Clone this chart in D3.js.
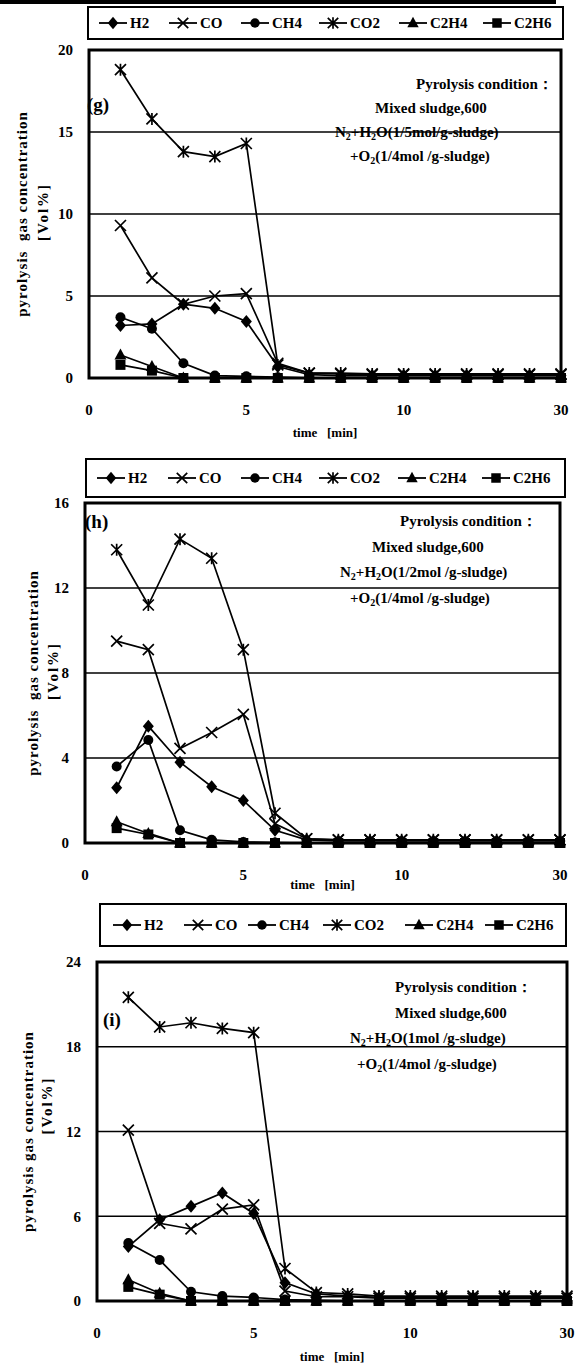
<!DOCTYPE html>
<html>
<head>
<meta charset="utf-8">
<script src="https://cdn.jsdelivr.net/npm/d3@7"></script>
<style>
  body { margin: 0; background: #fff; }
  svg text { font-family: "Liberation Serif", "DejaVu Serif", serif; font-weight: bold; fill: #000; }
</style>
</head>
<body>
<svg id="chart" width="583" height="1367"></svg>
<script>
// time points (min); the last one is plotted at position 15 but labelled 30
var times = [1, 2, 3, 4, 5, 6, 7, 8, 9, 10, 11, 12, 13, 14, 30];
var xTickPos = [0, 5, 10, 15];
var xTickLabels = ["0", "5", "10", "30"];
var gases = ["H2", "CO", "CH4", "CO2", "C2H4", "C2H6"];

// (g) N2+H2O(1/5mol/g-sludge)
var g_H2   = [3.2, 3.3, 4.5, 4.25, 3.45, 0.7, 0.2, 0.15, 0.15, 0.15, 0.15, 0.15, 0.15, 0.15, 0.15];
var g_CO   = [9.3, 6.1, 4.5, 5.0, 5.15, 0.9, 0.3, 0.25, 0.2, 0.2, 0.2, 0.2, 0.2, 0.2, 0.2];
var g_CH4  = [3.7, 3.0, 0.9, 0.15, 0.1, 0.05, 0, 0, 0, 0, 0, 0, 0, 0, 0];
var g_CO2  = [18.8, 15.8, 13.8, 13.5, 14.3, 0.8, 0.3, 0.3, 0.25, 0.25, 0.25, 0.25, 0.25, 0.25, 0.25];
var g_C2H4 = [1.4, 0.7, 0, 0, 0, 0, 0, 0, 0, 0, 0, 0, 0, 0, 0];
var g_C2H6 = [0.8, 0.45, 0, 0, 0, 0, 0, 0, 0, 0, 0, 0, 0, 0, 0];
var g_yTicks = [0, 5, 10, 15, 20];

// (h) N2+H2O(1/2mol/g-sludge)
var h_H2   = [2.6, 5.5, 3.8, 2.65, 2.0, 0.6, 0.15, 0.1, 0.1, 0.1, 0.1, 0.1, 0.1, 0.1, 0.1];
var h_CO   = [9.5, 9.1, 4.45, 5.2, 6.05, 0.9, 0.2, 0.15, 0.15, 0.15, 0.15, 0.15, 0.15, 0.15, 0.15];
var h_CH4  = [3.6, 4.85, 0.6, 0.15, 0.05, 0.02, 0, 0, 0, 0, 0, 0, 0, 0, 0];
var h_CO2  = [13.8, 11.2, 14.3, 13.4, 9.1, 1.4, 0.2, 0.15, 0.15, 0.15, 0.15, 0.15, 0.15, 0.15, 0.15];
var h_C2H4 = [1.0, 0.45, 0, 0, 0, 0, 0, 0, 0, 0, 0, 0, 0, 0, 0];
var h_C2H6 = [0.7, 0.4, 0, 0, 0, 0, 0, 0, 0, 0, 0, 0, 0, 0, 0];
var h_yTicks = [0, 4, 8, 12, 16];

// (i) N2+H2O(1mol/g-sludge)
var i_H2   = [3.85, 5.75, 6.7, 7.65, 6.2, 1.3, 0.5, 0.35, 0.25, 0.25, 0.25, 0.25, 0.25, 0.25, 0.25];
var i_CO   = [12.1, 5.5, 5.1, 6.5, 6.8, 0.7, 0.3, 0.3, 0.2, 0.2, 0.2, 0.2, 0.2, 0.2, 0.2];
var i_CH4  = [4.1, 2.9, 0.65, 0.35, 0.25, 0.1, 0.05, 0, 0, 0, 0, 0, 0, 0, 0];
var i_CO2  = [21.5, 19.4, 19.7, 19.3, 19.0, 2.3, 0.6, 0.5, 0.35, 0.35, 0.35, 0.35, 0.35, 0.35, 0.35];
var i_C2H4 = [1.5, 0.55, 0, 0, 0, 0, 0, 0, 0, 0, 0, 0, 0, 0, 0];
var i_C2H6 = [1.0, 0.45, 0, 0, 0, 0, 0, 0, 0, 0, 0, 0, 0, 0, 0];
var i_yTicks = [0, 6, 12, 18, 24];

var svg = d3.select("#chart");

// black strip at the very top of the scan
svg.append("rect").attr("x", 0).attr("y", 0).attr("width", 556).attr("height", 4).attr("fill", "#000");

// marker shapes, k = scale
function marker(sel, gas, k) {
    var p;
    if (gas == "H2") p = "M0,-6.5L5.5,0L0,6.5L-5.5,0Z";
    else if (gas == "C2H4") p = "M0,-6.5L6,4.5L-6,4.5Z";
    else if (gas == "C2H6") p = "M-5,-5h10v10h-10Z";
    if (p) {
        sel.append("path").attr("d", p).attr("fill", "#000").attr("transform", `scale(${k})`);
    } else if (gas == "CH4") {
        sel.append("circle").attr("r", 5 * k).attr("fill", "#000");
    } else {
        var r = 5.5 * k;
        var d = `M${-r},${-r}L${r},${r}M${-r},${r}L${r},${-r}`;
        if (gas == "CO2") d += `M0,${-r - 0.5}L0,${r + 0.5}`;
        sel.append("path").attr("d", d).attr("stroke", "#000").attr("stroke-width", 1.7).attr("fill", "none");
    }
}

function drawPanel(p) {
    var x = d3.scaleLinear().domain([0, 15]).range([p.left, p.right]);
    var y = d3.scaleLinear().domain([0, p.yTicks[p.yTicks.length - 1]]).range([p.bottom, p.top]);

    // legend box
    var lg = svg.append("g");
    lg.append("rect")
        .attr("x", p.legend[0]).attr("y", p.legend[1])
        .attr("width", p.legend[2] - p.legend[0]).attr("height", p.legend[3] - p.legend[1])
        .attr("fill", "none").attr("stroke", "#000").attr("stroke-width", 2);
    var ly = (p.legend[1] + p.legend[3]) / 2;
    gases.forEach(function(gas, k) {
        var cx = p.legendX[k];
        var it = lg.append("g").attr("transform", `translate(${cx},${ly})`);
        it.append("line").attr("x1", -14).attr("x2", 14).attr("stroke", "#000").attr("stroke-width", 1.8);
        marker(it, gas, 0.95);
        it.append("text").attr("x", 17).attr("dy", "0.35em").style("font-size", "15px").text(gas);
    });

    // gridlines
    svg.append("g").selectAll("line")
        .data(p.yTicks.slice(1, -1))
        .enter().append("line")
        .attr("x1", p.left).attr("x2", p.right)
        .attr("y1", function(d) { return y(d); }).attr("y2", function(d) { return y(d); })
        .attr("stroke", "#000").attr("stroke-width", 1.5);

    // y tick labels
    svg.append("g").selectAll("text")
        .data(p.yTicks)
        .enter().append("text")
        .attr("x", p.left - 16).attr("y", function(d) { return y(d); })
        .attr("dy", "0.35em").attr("text-anchor", "end")
        .style("font-size", "15px")
        .text(function(d) { return d; });

    // x tick labels
    svg.append("g").selectAll("text")
        .data(xTickPos)
        .enter().append("text")
        .attr("x", function(d) { return x(d); }).attr("y", p.bottom + 37)
        .attr("text-anchor", "middle")
        .style("font-size", "15px")
        .text(function(d, i) { return xTickLabels[i]; });

    svg.append("text")
        .attr("x", (p.left + p.right) / 2).attr("y", p.bottom + p.xTitleDy)
        .attr("text-anchor", "middle").attr("xml:space", "preserve")
        .style("font-size", "13px")
        .text("time   [min]");

    // y title (two lines)
    var yc = (p.top + p.bottom) / 2;
    svg.append("text")
        .attr("transform", `translate(${p.yTitleX[0]},${yc}) rotate(-90)`)
        .attr("text-anchor", "middle").attr("dy", "0.35em").attr("xml:space", "preserve")
        .style("font-size", "15px").style("letter-spacing", "1px")
        .text(p.yTitle);
    svg.append("text")
        .attr("transform", `translate(${p.yTitleX[1]},${yc - p.volShift}) rotate(-90)`)
        .attr("text-anchor", "middle").attr("dy", "0.35em")
        .style("font-size", "15px").style("letter-spacing", "2px")
        .text("[Vol%]");

    // series
    var line = d3.line()
        .x(function(d, i) { return x(i + 1); })
        .y(function(d) { return y(d); });
    gases.forEach(function(gas) {
        svg.append("path")
            .datum(p.series[gas])
            .attr("d", line)
            .attr("fill", "none").attr("stroke", "#000").attr("stroke-width", 1.7);
    });
    gases.forEach(function(gas) {
        svg.append("g").selectAll("g")
            .data(p.series[gas])
            .enter().append("g")
            .attr("transform", function(d, i) { return `translate(${x(i + 1)},${y(d)})`; })
            .each(function() { marker(d3.select(this), gas, 1); });
    });

    // frame
    svg.append("rect")
        .attr("x", p.left).attr("y", p.top)
        .attr("width", p.right - p.left).attr("height", p.bottom - p.top)
        .attr("fill", "none").attr("stroke", "#000").attr("stroke-width", 3);

    // panel label
    svg.append("text").attr("x", p.tag[0]).attr("y", p.tag[1])
        .style("font-size", "19px").text(p.tagText);

    // condition note
    var note = svg.append("g").style("font-size", "15px");
    p.note.forEach(function(n) {
        var t = note.append("text").attr("x", n.x).attr("y", n.y).attr("xml:space", "preserve");
        n.parts.forEach(function(pt) {
            var ts = t.append("tspan").text(pt[0]);
            if (pt[1]) ts.style("font-size", "10px").attr("dy", 3);
            else if (pt[2]) ts.attr("dy", -3);
        });
    });
}

function noteLines(xs, ys, h2o) {
    return [
        {x: xs[0], y: ys[0], parts: [["Pyrolysis condition："]]},
        {x: xs[1], y: ys[1], parts: [["Mixed sludge,600"]]},
        {x: xs[2], y: ys[2], parts: [["N"], ["2", 1], ["+H", 0, 1], ["2", 1], [h2o, 0, 1]]},
        {x: xs[3], y: ys[3], parts: [["+O"], ["2", 1], ["(1/4mol /g-sludge)", 0, 1]]}
    ];
}

drawPanel({
    left: 89, right: 561, top: 50, bottom: 378,
    legend: [88, 7, 563, 39],
    legendX: [113, 183, 255, 333, 413, 497],
    yTicks: g_yTicks, xTitleDy: 59,
    yTitle: "pyrolysis  gas concentration", yTitleX: [22, 43], volShift: 2,
    tag: [87, 111], tagText: "(g)",
    series: {H2: g_H2, CO: g_CO, CH4: g_CH4, CO2: g_CO2, C2H4: g_C2H4, C2H6: g_C2H6},
    note: noteLines([416, 375, 335, 350], [89, 113, 137, 161], "O(1/5mol/g-sludge)")
});

drawPanel({
    left: 85, right: 560, top: 503, bottom: 843,
    legend: [86, 459, 565, 497],
    legendX: [111, 182, 255, 333, 412, 496],
    yTicks: h_yTicks, xTitleDy: 46,
    yTitle: "pyrolysis  gas concentration", yTitleX: [33, 53], volShift: 2,
    tag: [85, 528], tagText: "(h)",
    series: {H2: h_H2, CO: h_CO, CH4: h_CH4, CO2: h_CO2, C2H4: h_C2H4, C2H6: h_C2H6},
    note: noteLines([400, 372, 340, 350], [526, 552, 577, 603], "O(1/2mol /g-sludge)")
});

drawPanel({
    left: 97, right: 567, top: 962, bottom: 1301,
    legend: [100, 904, 566, 946],
    legendX: [127, 198, 262, 337, 419, 499],
    yTicks: i_yTicks, xTitleDy: 60,
    yTitle: "pyrolysis gas concentration", yTitleX: [28, 47], volShift: 26,
    tag: [103, 1026], tagText: "(i)",
    series: {H2: i_H2, CO: i_CO, CH4: i_CH4, CO2: i_CO2, C2H4: i_C2H4, C2H6: i_C2H6},
    note: noteLines([395, 395, 350, 357], [992, 1018, 1043, 1069], "O(1mol /g-sludge)")
});
</script>
</body>
</html>
